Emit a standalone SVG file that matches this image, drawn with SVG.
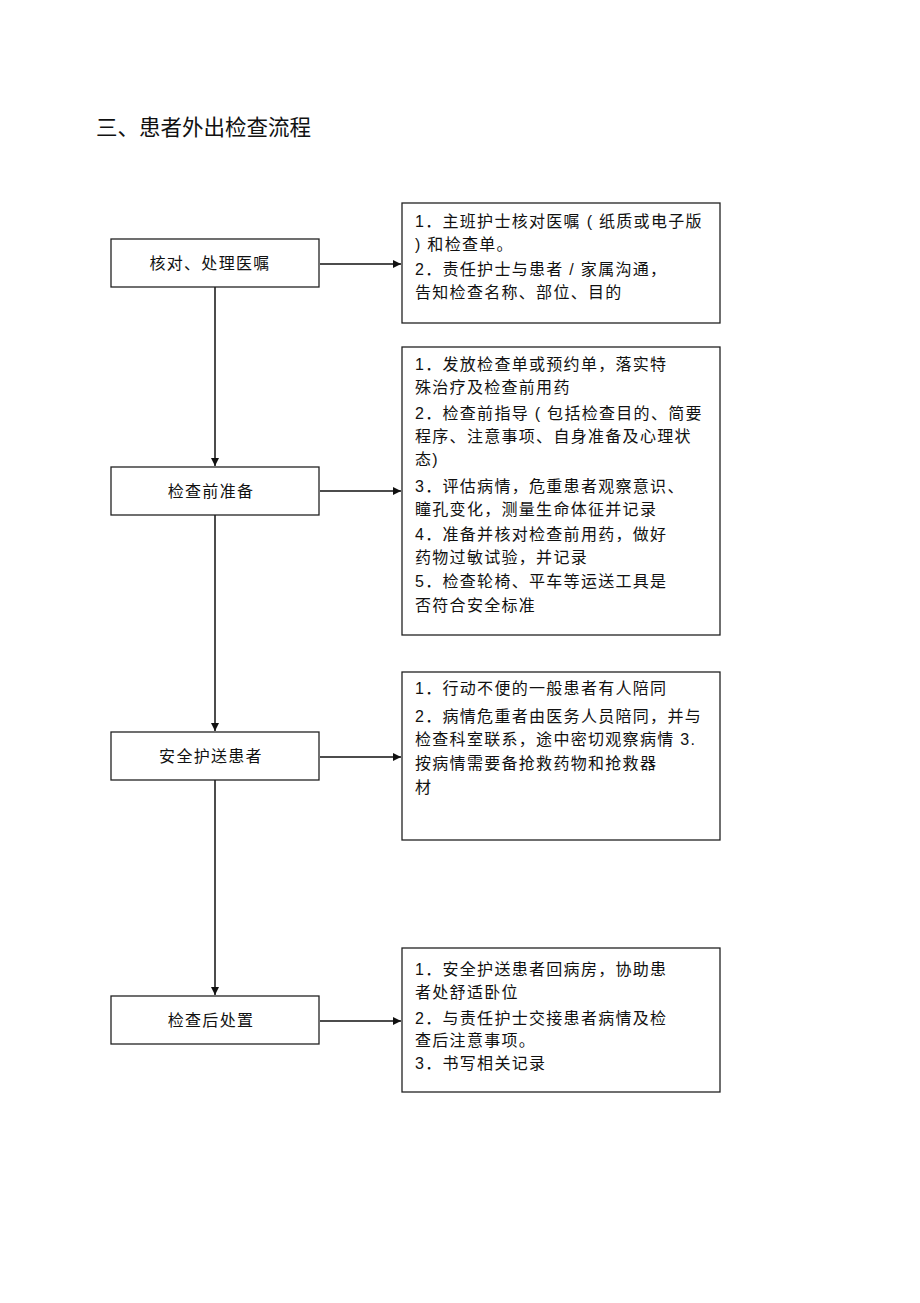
<svg xmlns="http://www.w3.org/2000/svg" width="920" height="1303" viewBox="0 0 920 1303">
<defs>
<style>
.t{font-family:"Liberation Sans","Noto Sans CJK SC",sans-serif;font-size:16px;letter-spacing:1.3px;fill:#111}
.title{font-family:"Liberation Sans","Noto Sans CJK SC",sans-serif;font-size:21.5px;fill:#111}
.box{fill:#fff;stroke:#222;stroke-width:1.3}
.c{stroke:#111;stroke-width:1.5;fill:none}
</style>
<marker id="ah" viewBox="0 0 10 10" refX="10" refY="5" markerWidth="8" markerHeight="8" markerUnits="userSpaceOnUse" orient="auto">
<path d="M0,0 L10,5 L0,10 z" fill="#111"/>
</marker>
</defs>
<rect width="920" height="1303" fill="#fff"/>
<text class="title" x="96" y="135">三、患者外出检查流程</text>

<g id="connectors">
<line class="c" x1="215" y1="287" x2="215" y2="466" marker-end="url(#ah)"/>
<line class="c" x1="215" y1="515" x2="215" y2="731" marker-end="url(#ah)"/>
<line class="c" x1="215" y1="780" x2="215" y2="995" marker-end="url(#ah)"/>
<line class="c" x1="320" y1="264" x2="401" y2="264" marker-end="url(#ah)"/>
<line class="c" x1="320" y1="491" x2="401" y2="491" marker-end="url(#ah)"/>
<line class="c" x1="320" y1="757" x2="401" y2="757" marker-end="url(#ah)"/>
<line class="c" x1="320" y1="1021" x2="401" y2="1021" marker-end="url(#ah)"/>
</g>

<g id="n1">
<rect class="box" x="111" y="239" width="208" height="48"/>
<text class="t" x="210" y="269" text-anchor="middle">核对、处理医嘱</text>
</g>
<g id="n2">
<rect class="box" x="111" y="467" width="208" height="48"/>
<text class="t" x="211" y="497" text-anchor="middle">检查前准备</text>
</g>
<g id="n3">
<rect class="box" x="111" y="732" width="208" height="48"/>
<text class="t" x="211" y="762" text-anchor="middle">安全护送患者</text>
</g>
<g id="n4">
<rect class="box" x="111" y="996" width="208" height="48"/>
<text class="t" x="211" y="1026" text-anchor="middle">检查后处置</text>
</g>

<g id="d1">
<rect class="box" x="402" y="203" width="318" height="120"/>
<text class="t" x="415" y="227">1．主班护士核对医嘱 ( 纸质或电子版</text>
<text class="t" x="415" y="250">) 和检查单。</text>
<text class="t" x="415" y="275">2．责任护士与患者 / 家属沟通，</text>
<text class="t" x="415" y="298">告知检查名称、部位、目的</text>
</g>
<g id="d2">
<rect class="box" x="402" y="347" width="318" height="288"/>
<text class="t" x="415" y="370">1．发放检查单或预约单，落实特</text>
<text class="t" x="415" y="393">殊治疗及检查前用药</text>
<text class="t" x="415" y="419">2．检查前指导 ( 包括检查目的、简要</text>
<text class="t" x="415" y="442">程序、注意事项、自身准备及心理状</text>
<text class="t" x="415" y="465">态)</text>
<text class="t" x="415" y="492">3．评估病情，危重患者观察意识、</text>
<text class="t" x="415" y="515">瞳孔变化，测量生命体征并记录</text>
<text class="t" x="415" y="540">4．准备并核对检查前用药，做好</text>
<text class="t" x="415" y="563">药物过敏试验，并记录</text>
<text class="t" x="415" y="587">5．检查轮椅、平车等运送工具是</text>
<text class="t" x="415" y="611">否符合安全标准</text>
</g>
<g id="d3">
<rect class="box" x="402" y="672" width="318" height="168"/>
<text class="t" x="415" y="694">1．行动不便的一般患者有人陪同</text>
<text class="t" x="415" y="722">2．病情危重者由医务人员陪同，并与</text>
<text class="t" x="415" y="745">检查科室联系，途中密切观察病情 3.</text>
<text class="t" x="415" y="769">按病情需要备抢救药物和抢救器</text>
<text class="t" x="415" y="793">材</text>
</g>
<g id="d4">
<rect class="box" x="402" y="948" width="318" height="144"/>
<text class="t" x="415" y="975">1．安全护送患者回病房，协助患</text>
<text class="t" x="415" y="998">者处舒适卧位</text>
<text class="t" x="415" y="1024">2．与责任护士交接患者病情及检</text>
<text class="t" x="415" y="1046">查后注意事项。</text>
<text class="t" x="415" y="1069">3．书写相关记录</text>
</g>
</svg>
